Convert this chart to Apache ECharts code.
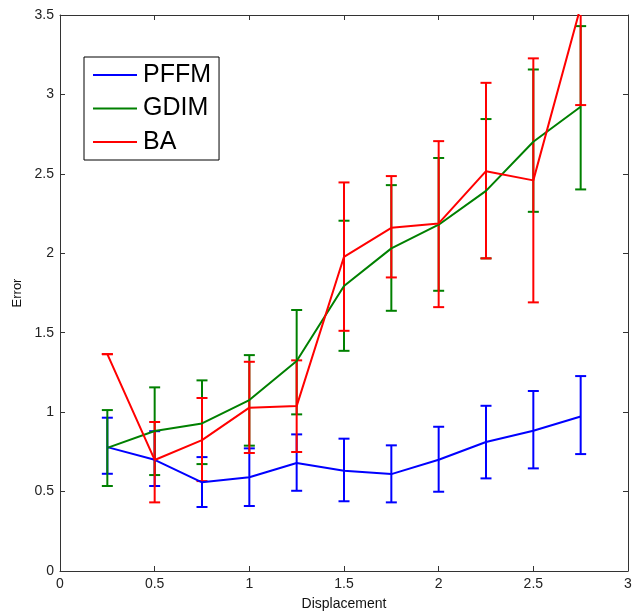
<!DOCTYPE html>
<html>
<head>
<meta charset="utf-8">
<script src="https://cdn.jsdelivr.net/npm/echarts@6/dist/echarts.min.js"></script>
<style>
html,body{margin:0;padding:0;background:#fff;}
#chart{width:639px;height:611px;}
</style>
</head>
<body>
<div id="chart"></div>
<script>
// Data
var displacement = [0.25, 0.5, 0.75, 1.0, 1.25, 1.5, 1.75, 2.0, 2.25, 2.5, 2.75];

var pffm     = [0.78, 0.70, 0.558, 0.59, 0.68, 0.631, 0.61, 0.70, 0.812, 0.883, 0.973];
var pffmLow  = [0.612, 0.535, 0.403, 0.409, 0.505, 0.439, 0.432, 0.499, 0.583, 0.646, 0.736];
var pffmHigh = [0.965, 0.88, 0.717, 0.772, 0.86, 0.833, 0.791, 0.908, 1.04, 1.133, 1.227];

var gdim     = [0.775, 0.881, 0.929, 1.076, 1.322, 1.794, 2.031, 2.18, 2.393, 2.702, 2.922];
var gdimLow  = [0.535, 0.604, 0.673, 0.789, 0.986, 1.386, 1.638, 1.764, 1.968, 2.261, 2.402];
var gdimHigh = [1.013, 1.156, 1.2, 1.359, 1.643, 2.205, 2.429, 2.60, 2.845, 3.157, 3.43];

var ba       = [1.365, 0.699, 0.824, 1.028, 1.038, 1.978, 2.16, 2.188, 2.517, 2.459, 3.553];
var baLow    = [1.365, 0.432, 0.566, 0.743, 0.749, 1.512, 1.848, 1.661, 1.968, 1.691, 2.933];
var baHigh   = [1.365, 0.938, 1.089, 1.317, 1.326, 2.446, 2.486, 2.706, 3.073, 3.227, 4.17];

var seriesNames = ['PFFM', 'GDIM', 'BA'];
var seriesColors = ['#0000ff', '#008000', '#ff0000'];
var xTicks = {min: 0, max: 3, interval: 0.5};
var yTicks = {min: 0, max: 3.5, interval: 0.5};

var FONT = '"Liberation Sans", Arial, sans-serif';
var chart = echarts.init(document.getElementById('chart'), null, {renderer: 'canvas'});

function pairs(xs, ys) { return xs.map(function (x, i) { return [x, ys[i]]; }); }
function triples(xs, lo, hi) { return xs.map(function (x, i) { return [x, lo[i], hi[i]]; }); }

function errorSeries(name, color, data) {
  return {
    type: 'custom',
    name: name,
    clip: true,
    silent: true,
    z: 3,
    data: data,
    encode: {x: 0, y: [1, 2]},
    renderItem: function (params, api) {
      var x = api.value(0);
      var lo = api.coord([x, api.value(1)]);
      var hi = api.coord([x, api.value(2)]);
      var hw = 5.5;
      var st = {stroke: color, lineWidth: 2};
      return {
        type: 'group',
        children: [
          {type: 'line', shape: {x1: lo[0], y1: lo[1], x2: hi[0], y2: hi[1]}, style: st},
          {type: 'line', shape: {x1: lo[0] - hw, y1: lo[1], x2: lo[0] + hw, y2: lo[1]}, style: st},
          {type: 'line', shape: {x1: hi[0] - hw, y1: hi[1], x2: hi[0] + hw, y2: hi[1]}, style: st}
        ]
      };
    }
  };
}

function lineSeries(name, color, data) {
  return {
    type: 'line',
    name: name,
    data: data,
    showSymbol: false,
    symbol: 'none',
    clip: true,
    z: 3,
    lineStyle: {color: color, width: 2},
    itemStyle: {color: color},
    animation: false
  };
}

function axisCommon() {
  return {
    axisLine: {show: true, onZero: false, lineStyle: {color: '#333', width: 1}},
    axisTick: {show: true, inside: true, length: 5, lineStyle: {color: '#333', width: 1}},
    splitLine: {show: false}
  };
}

var option = {
  animation: false,
  backgroundColor: '#fff',
  grid: {left: 60, right: 11, top: 15, bottom: 40, containLabel: false, outerBoundsMode: 'none'},
  legend: {
    data: seriesNames,
    orient: 'vertical',
    left: 84,
    top: 57,
    icon: 'rect',
    itemWidth: 44,
    itemHeight: 2,
    itemGap: 5.5,
    padding: [4, 8, 4, 9],
    borderColor: '#000',
    borderWidth: 1,
    backgroundColor: '#fff',
    textStyle: {fontFamily: FONT, fontSize: 25, color: '#000', lineHeight: 28, padding: [0, 0, 0, 1]}
  },
  xAxis: [
    Object.assign(axisCommon(), {
      type: 'value', position: 'bottom', min: xTicks.min, max: xTicks.max, interval: xTicks.interval,
      name: 'Displacement', nameLocation: 'middle', nameGap: 26,
      nameTextStyle: {fontFamily: FONT, fontSize: 14, color: '#111'},
      axisLabel: {fontFamily: FONT, fontSize: 14, color: '#222', margin: 6}
    }),
    Object.assign(axisCommon(), {
      type: 'value', position: 'top', min: xTicks.min, max: xTicks.max, interval: xTicks.interval,
      axisLabel: {show: false}
    })
  ],
  yAxis: [
    Object.assign(axisCommon(), {
      type: 'value', position: 'left', min: yTicks.min, max: yTicks.max, interval: yTicks.interval,
      name: 'Error', nameLocation: 'middle', nameGap: 30, nameRotate: 90,
      nameTextStyle: {fontFamily: FONT, fontSize: 13, color: '#111'},
      axisLabel: {fontFamily: FONT, fontSize: 14, color: '#222', margin: 6}
    }),
    Object.assign(axisCommon(), {
      type: 'value', position: 'right', min: yTicks.min, max: yTicks.max, interval: yTicks.interval,
      axisLabel: {show: false}
    })
  ],
  series: [
    lineSeries(seriesNames[0], seriesColors[0], pairs(displacement, pffm)),
    errorSeries(seriesNames[0], seriesColors[0], triples(displacement, pffmLow, pffmHigh)),
    lineSeries(seriesNames[1], seriesColors[1], pairs(displacement, gdim)),
    errorSeries(seriesNames[1], seriesColors[1], triples(displacement, gdimLow, gdimHigh)),
    lineSeries(seriesNames[2], seriesColors[2], pairs(displacement, ba)),
    errorSeries(seriesNames[2], seriesColors[2], triples(displacement, baLow, baHigh))
  ]
};
chart.setOption(option);
</script>
</body>
</html>
